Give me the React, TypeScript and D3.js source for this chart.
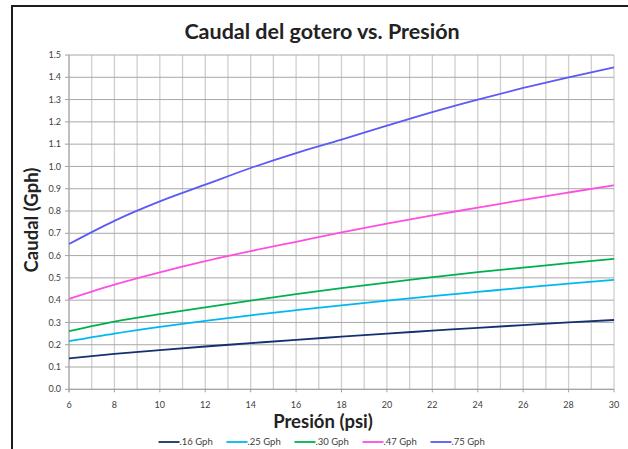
import React from "react";
import * as d3 from "d3";

const pressure = [6, 8, 10, 12, 14, 16, 18, 20, 22, 24, 26, 28, 30];
const g016 = [0.139, 0.159, 0.176, 0.192, 0.207, 0.222, 0.236, 0.25, 0.263, 0.276, 0.288, 0.3, 0.311];
const g025 = [0.216, 0.25, 0.28, 0.307, 0.332, 0.355, 0.377, 0.398, 0.418, 0.437, 0.456, 0.474, 0.491];
const g030 = [0.261, 0.304, 0.337, 0.368, 0.398, 0.427, 0.454, 0.479, 0.503, 0.526, 0.546, 0.566, 0.585];
const g047 = [0.406, 0.47, 0.525, 0.575, 0.62, 0.662, 0.704, 0.743, 0.78, 0.815, 0.85, 0.883, 0.915];
const g075 = [0.652, 0.756, 0.843, 0.918, 0.993, 1.06, 1.12, 1.183, 1.244, 1.3, 1.352, 1.4, 1.445];

const seriesNames = [".16 Gph", ".25 Gph", ".30 Gph", ".47 Gph", ".75 Gph"];
const seriesValues = [g016, g025, g030, g047, g075];
const seriesColors = ["#14306e", "#00b8f0", "#00b050", "#ff4fe0", "#5a5af5"];

const yTicks = [0, 0.1, 0.2, 0.3, 0.4, 0.5, 0.6, 0.7, 0.8, 0.9, 1.0, 1.1, 1.2, 1.3, 1.4, 1.5];
const xTicks = [6, 8, 10, 12, 14, 16, 18, 20, 22, 24, 26, 28, 30];
const xGrid = d3.range(6, 31, 1);

const title = "Caudal del gotero vs. Presión";
const xTitle = "Presión (psi)";
const yTitle = "Caudal (Gph)";

const FONT = "Lato, 'Open Sans', sans-serif";

export default function App() {
  const W = 628;
  const H = 449;
  const x = d3.scaleLinear().domain([6, 30]).range([69, 614]);
  const y = d3.scaleLinear().domain([0, 1.5]).range([389.3, 55]);
  const line = d3
    .line<[number, number]>()
    .x((d) => x(d[0]))
    .y((d) => y(d[1]))
    .curve(d3.curveMonotoneX);

  return (
    <svg
      width={W}
      height={H}
      style={{ position: "absolute", left: 0, top: 0, background: "#fff" }}
      fontFamily={FONT}
    >
      <rect x={0} y={0} width={W} height={H} fill="#fff" />
      <rect x={12} y={6} width={W + 20} height={H + 20} fill="none" stroke="#1c1c1c" strokeWidth={2} />
      <text x={322} y={39} textAnchor="middle" fontSize={21.5} fontWeight="bold" fill="#222">
        {title}
      </text>
      {/* vertical grid */}
      {xGrid.map((v) => (
        <line key={"vx" + v} x1={x(v)} x2={x(v)} y1={y(1.5)} y2={y(0)} stroke="#cfcfcf" strokeWidth={1.3} />
      ))}
      {/* horizontal grid */}
      {yTicks.map((v) => (
        <line key={"hy" + v} x1={x(6)} x2={x(30)} y1={y(v)} y2={y(v)} stroke="#a8a8a8" strokeWidth={1} />
      ))}
      {/* axes */}
      <line x1={x(6)} x2={x(6)} y1={y(1.5)} y2={y(0) + 3} stroke="#a0a0a0" strokeWidth={1} />
      <line x1={x(6)} x2={x(30)} y1={y(0)} y2={y(0)} stroke="#a0a0a0" strokeWidth={1} />
      {yTicks.map((v) => (
        <g key={"yt" + v}>
          <line x1={x(6) - 4} x2={x(6)} y1={y(v)} y2={y(v)} stroke="#a0a0a0" />
          <text x={61} y={y(v)} dy="0.35em" textAnchor="end" fontSize={9} fill="#404040">
            {v.toFixed(1)}
          </text>
        </g>
      ))}
      {xTicks.map((v) => (
        <g key={"xt" + v}>
          <line x1={x(v)} x2={x(v)} y1={y(0)} y2={y(0) + 3} stroke="#a0a0a0" />
          <text x={x(v)} y={408} textAnchor="middle" fontSize={9} fill="#404040">
            {v}
          </text>
        </g>
      ))}
      {/* series */}
      {seriesValues.map((vals, i) => (
        <path
          key={"s" + i}
          d={line(pressure.map((p, j) => [p, vals[j]] as [number, number])) || ""}
          fill="none"
          stroke={seriesColors[i]}
          strokeWidth={1.8}
        />
      ))}
      {/* axis titles */}
      <text x={323} y={428} textAnchor="middle" fontSize={18.5} fontWeight="bold" fill="#222">
        {xTitle}
      </text>
      <text
        transform={`translate(38,220) rotate(-90)`}
        textAnchor="middle"
        fontSize={18.5}
        fontWeight="bold"
        fill="#222"
      >
        {yTitle}
      </text>
      {/* legend */}
      {seriesNames.map((n, i) => {
        const lx = 158.5 + i * 68;
        return (
          <g key={"lg" + i}>
            <line x1={lx} x2={lx + 21} y1={442} y2={442} stroke={seriesColors[i]} strokeWidth={1.8} />
            <text x={lx + 21} y={442} dy="0.35em" fontSize={9.5} fill="#404040">
              {n}
            </text>
          </g>
        );
      })}
    </svg>
  );
}
